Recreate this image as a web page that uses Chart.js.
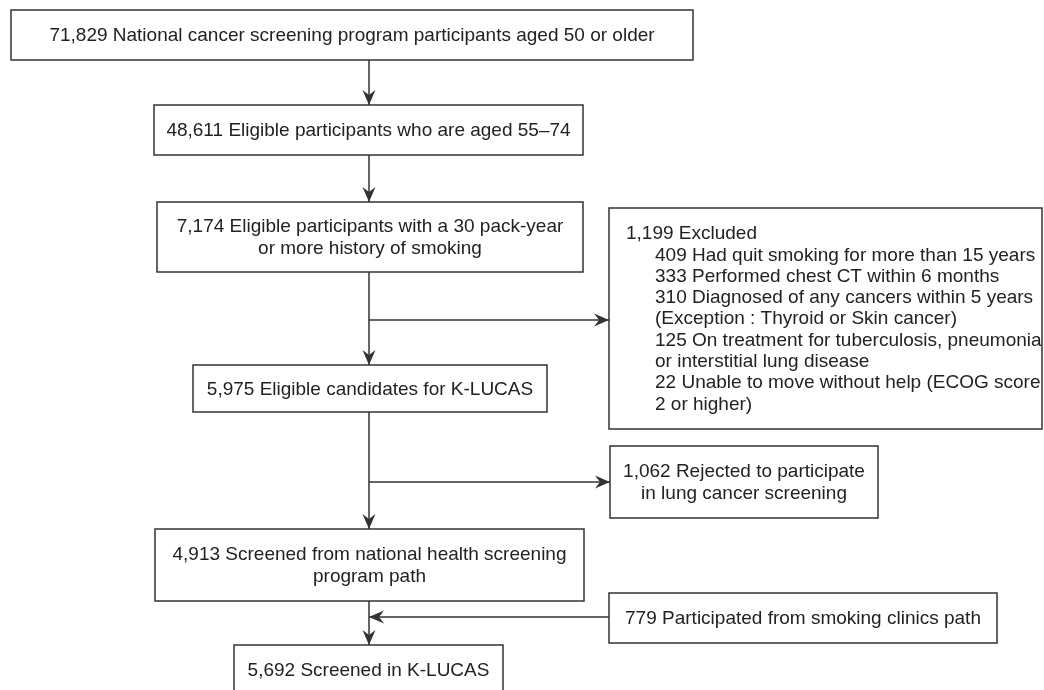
<!DOCTYPE html>
<html>
<head>
<meta charset="utf-8">
<script src="https://cdn.jsdelivr.net/npm/chart.js@4.4.1/dist/chart.umd.min.js"></script>
<style>
  html, body { margin: 0; padding: 0; background: #fff; }
  #flow { display: block; }
</style>
</head>
<body>
<canvas id="flow" width="1044" height="690"></canvas>
<script>
// counts shown in the boxes
const counts = ['71,829', '48,611', '7,174', '1,199', '5,975', '1,062', '4,913', '779', '5,692'];
const labels = [
  ['National cancer screening program participants aged 50 or older'],
  ['Eligible participants who are aged 55\u201374'],
  ['Eligible participants with a 30 pack-year', 'or more history of smoking'],
  ['Excluded'],
  ['Eligible candidates for K-LUCAS'],
  ['Rejected to participate', 'in lung cancer screening'],
  ['Screened from national health screening', 'program path'],
  ['Participated from smoking clinics path'],
  ['Screened in K-LUCAS']
];
const excludedCounts = ['409', '333', '310', '125', '22'];
const excludedReasons = [
  ['Had quit smoking for more than 15 years'],
  ['Performed chest CT within 6 months'],
  ['Diagnosed of any cancers within 5 years', '(Exception : Thyroid or Skin cancer)'],
  ['On treatment for tuberculosis, pneumonia', 'or interstitial lung disease'],
  ['Unable to move without help (ECOG score', '2 or higher)']
];

// layout of the boxes (scale units): x1, y1, x2, y2
const boxes = [
  [11, 10, 693, 60],
  [154, 105, 583, 155],
  [157, 202, 583, 272],
  [609, 208, 1042, 429],
  [193, 365, 547, 412],
  [610, 446, 878, 518],
  [155, 529, 584, 601],
  [609, 593, 997, 643],
  [234, 645, 503, 700]
];
const mainX = 369;
// connectors: [from, to], arrowhead at the end
const links = [
  [[mainX, 60], [mainX, 105]],
  [[mainX, 155], [mainX, 202]],
  [[mainX, 272], [mainX, 365]],
  [[mainX, 320], [609, 320]],
  [[mainX, 412], [mainX, 529]],
  [[mainX, 482], [610, 482]],
  [[mainX, 601], [mainX, 645]],
  [[609, 617], [mainX, 617]]
];

const ink = '#333';
const fontMain = '19px "Liberation Sans", Arial, sans-serif';

const datasets = links.map(l => ({
  data: l.map(p => ({ x: p[0], y: p[1] })),
  showLine: true,
  borderColor: ink,
  borderWidth: 1.5,
  pointRadius: 0,
  fill: false
}));

const flowPlugin = {
  id: 'flow',
  beforeDraw(chart) {
    const c = chart.ctx;
    c.save();
    c.fillStyle = '#fff';
    c.fillRect(0, 0, chart.width, chart.height);
    c.restore();
  },
  afterDatasetsDraw(chart) {
    const c = chart.ctx;
    const sx = chart.scales.x, sy = chart.scales.y;
    const px = v => sx.getPixelForValue(v);
    const py = v => sy.getPixelForValue(v);
    c.save();
    c.strokeStyle = ink;
    c.lineWidth = 1.5;
    c.fillStyle = '#222';
    c.font = fontMain;
    c.textBaseline = 'middle';

    boxes.forEach((b, i) => {
      const x1 = px(b[0]), y1 = py(b[1]), x2 = px(b[2]), y2 = py(b[3]);
      c.strokeRect(x1, y1, x2 - x1, y2 - y1);
      if (i === 3) return;
      const lines = labels[i].slice();
      lines[0] = counts[i] + ' ' + lines[0];
      const cx = (x1 + x2) / 2;
      const y2b = Math.min(y2, py(695));
      const lh = 22;
      const cy = (y1 + y2b) / 2 - (lines.length - 1) * lh / 2 + 1;
      c.textAlign = 'center';
      lines.forEach((t, k) => c.fillText(t, cx, cy + k * lh));
    });

    // excluded box, left aligned list
    const eb = boxes[3];
    let y = py(234);
    const lh = 21.3;
    c.textAlign = 'left';
    c.fillText(counts[3] + ' ' + labels[3][0], px(eb[0]) + 17, y);
    excludedReasons.forEach((r, i) => {
      r.forEach((t, k) => {
        y += lh;
        c.fillText((k === 0 ? excludedCounts[i] + ' ' : '') + t, px(eb[0]) + 46, y);
      });
    });

    // arrowheads
    c.fillStyle = ink;
    links.forEach(l => {
      const ax = px(l[0][0]), ay = py(l[0][1]);
      const bx = px(l[1][0]), by = py(l[1][1]);
      const ang = Math.atan2(by - ay, bx - ax);
      const len = 15, w = 6.5;
      c.save();
      c.translate(bx, by);
      c.rotate(ang);
      c.beginPath();
      c.moveTo(0, 0);
      c.lineTo(-len, -w);
      c.lineTo(-len + 5, 0);
      c.lineTo(-len, w);
      c.closePath();
      c.fill();
      c.restore();
    });
    c.restore();
  }
};

new Chart(document.getElementById('flow'), {
  type: 'scatter',
  data: { datasets },
  options: {
    responsive: false,
    animation: false,
    layout: { padding: 0 },
    plugins: { legend: { display: false }, tooltip: { enabled: false } },
    scales: {
      x: { type: 'linear', min: 0, max: 1044, display: false },
      y: { type: 'linear', min: 0, max: 690, reverse: true, display: false }
    }
  },
  plugins: [flowPlugin]
});
</script>
</body>
</html>
